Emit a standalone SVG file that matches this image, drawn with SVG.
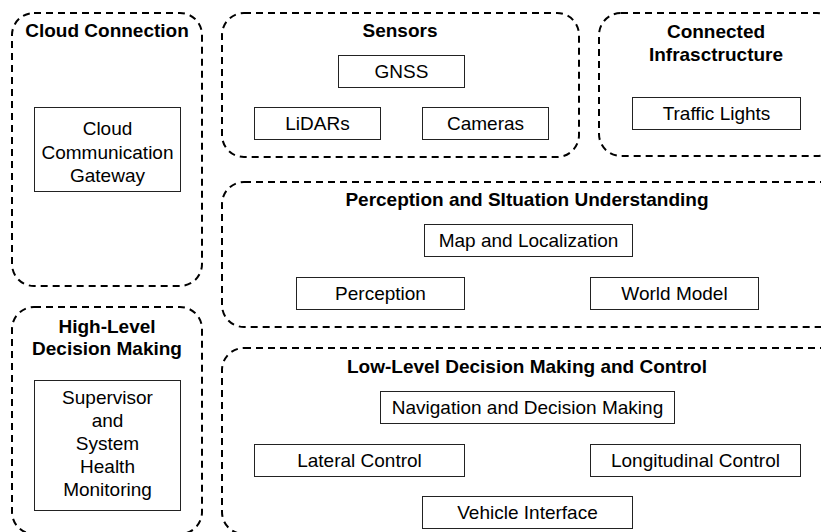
<svg xmlns="http://www.w3.org/2000/svg" width="821" height="532" viewBox="0 0 821 532">
<style>
.grp{fill:none;stroke:#000;stroke-width:2;stroke-dasharray:7 5}
.box{fill:#fff;stroke:#222;stroke-width:1}
.t{font-family:"Liberation Sans",Arial,sans-serif;font-size:19px;text-anchor:middle;fill:#000}
.h{font-family:"Liberation Sans",Arial,sans-serif;font-size:19px;font-weight:bold;text-anchor:middle;fill:#000}
</style>
<rect width="821" height="532" fill="#fff"/>
<g id="cloud-connection">
<rect class="grp" x="12" y="13" width="190" height="273" rx="22"/>
<text class="h" x="107" y="37">Cloud Connection</text>
<g id="cloud-gateway">
<rect class="box" x="34.5" y="107.5" width="146" height="84"/>
<text class="t" x="107.5" y="135">Cloud</text>
<text class="t" x="107.5" y="158.5">Communication</text>
<text class="t" x="107.5" y="182">Gateway</text>
</g>
</g>
<g id="high-level">
<rect class="grp" x="12" y="307" width="190" height="227" rx="22"/>
<text class="h" x="107" y="333">High-Level</text>
<text class="h" x="107" y="355">Decision Making</text>
<g id="supervisor">
<rect class="box" x="34.5" y="380.5" width="146" height="130"/>
<text class="t" x="107.5" y="404">Supervisor</text>
<text class="t" x="107.5" y="427">and</text>
<text class="t" x="107.5" y="450">System</text>
<text class="t" x="107.5" y="473">Health</text>
<text class="t" x="107.5" y="496">Monitoring</text>
</g>
</g>
<g id="sensors">
<rect class="grp" x="222" y="13" width="357" height="144" rx="22"/>
<text class="h" x="400" y="37">Sensors</text>
<g id="gnss"><rect class="box" x="338.5" y="55.5" width="126" height="32"/><text class="t" x="401.5" y="78">GNSS</text></g>
<g id="lidars"><rect class="box" x="254.5" y="107.5" width="126" height="32"/><text class="t" x="317.5" y="130">LiDARs</text></g>
<g id="cameras"><rect class="box" x="422.5" y="107.5" width="126" height="32"/><text class="t" x="485.5" y="130">Cameras</text></g>
</g>
<g id="connected-infrastructure">
<rect class="grp" x="599" y="13" width="240" height="143" rx="22"/>
<text class="h" x="716" y="38">Connected</text>
<text class="h" x="716" y="61">Infrasctructure</text>
<g id="traffic-lights"><rect class="box" x="632.5" y="97.5" width="168" height="32"/><text class="t" x="716.5" y="120">Traffic Lights</text></g>
</g>
<g id="perception-situation">
<rect class="grp" x="222" y="182" width="620" height="145" rx="22"/>
<text class="h" x="527" y="206">Perception and SItuation Understanding</text>
<g id="map-localization"><rect class="box" x="424.5" y="224.5" width="208" height="32"/><text class="t" x="528.5" y="247">Map and Localization</text></g>
<g id="perception"><rect class="box" x="296.5" y="277.5" width="168" height="32"/><text class="t" x="380.5" y="300">Perception</text></g>
<g id="world-model"><rect class="box" x="590.5" y="277.5" width="168" height="32"/><text class="t" x="674.5" y="300">World Model</text></g>
</g>
<g id="low-level">
<rect class="grp" x="222" y="348" width="620" height="186" rx="22"/>
<text class="h" x="527" y="373">Low-Level Decision Making and Control</text>
<g id="navigation"><rect class="box" x="380.5" y="391.5" width="294" height="32"/><text class="t" x="527.5" y="414">Navigation and Decision Making</text></g>
<g id="lateral"><rect class="box" x="254.5" y="444.5" width="210" height="32"/><text class="t" x="359.5" y="467">Lateral Control</text></g>
<g id="longitudinal"><rect class="box" x="590.5" y="444.5" width="210" height="32"/><text class="t" x="695.5" y="467">Longitudinal Control</text></g>
<g id="vehicle-interface"><rect class="box" x="422.5" y="496.5" width="210" height="32"/><text class="t" x="527.5" y="519">Vehicle Interface</text></g>
</g>
<g id="connectors"></g>
</svg>
